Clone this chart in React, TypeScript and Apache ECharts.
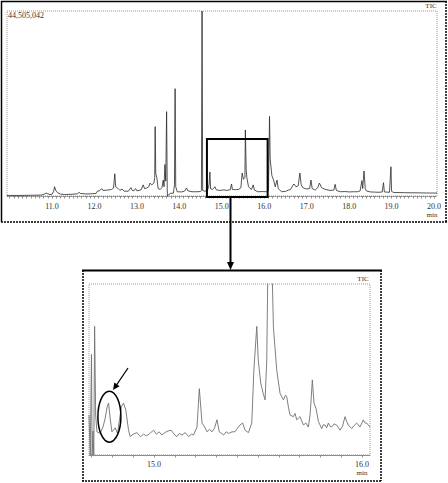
import React, { useEffect, useRef } from "react";
import * as echarts from "echarts";

// Overview TIC trace (retention time in min, intensity in % of full scale)
const overviewTime = [
  9.94, 10.2, 10.5, 10.75, 10.82, 10.86, 10.9, 10.95, 11.0, 11.04, 11.06, 11.09, 11.13, 11.2, 11.3, 11.45,
  11.6, 11.64, 11.67, 11.8, 11.95, 12.04, 12.07, 12.12, 12.17, 12.2, 12.3, 12.4, 12.45, 12.48, 12.5, 12.55,
  12.6, 12.65, 12.7, 12.8, 12.86, 12.89, 12.93, 12.97, 13.0, 13.05, 13.1, 13.15, 13.18, 13.23, 13.28, 13.31,
  13.35, 13.4, 13.42, 13.43, 13.445, 13.47, 13.5, 13.55, 13.59, 13.62, 13.64, 13.66, 13.68, 13.7, 13.715, 13.72,
  13.735, 13.8, 13.86, 13.885, 13.9, 13.915, 13.95, 14.05, 14.12, 14.17, 14.2, 14.3, 14.4, 14.5, 14.52, 14.535,
  14.55, 14.6, 14.66, 14.7, 14.72, 14.735, 14.78, 14.84, 14.87, 14.95, 15.05, 15.12, 15.2, 15.23, 15.25, 15.32,
  15.4, 15.45, 15.48, 15.51, 15.545, 15.555, 15.575, 15.59, 15.63, 15.7, 15.74, 15.77, 15.85, 15.95, 16.05, 16.1,
  16.125, 16.14, 16.18, 16.22, 16.26, 16.3, 16.33, 16.41, 16.5, 16.57, 16.62, 16.67, 16.7, 16.75, 16.8, 16.84,
  16.87, 16.92, 17.0, 17.07, 17.1, 17.13, 17.2, 17.26, 17.3, 17.35, 17.43, 17.55, 17.64, 17.67, 17.7, 17.79,
  17.9, 18.0, 18.1, 18.2, 18.26, 18.3, 18.32, 18.35, 18.38, 18.41, 18.5, 18.6, 18.7, 18.78, 18.81, 18.83,
  18.95, 18.985, 19.0, 19.05, 19.3, 19.6, 19.9, 20.07,
];
const overviewIntensity = [
  0.3, 0.3, 0.4, 0.5, 1.0, 1.6, 1.2, 0.8, 0.9, 2.5, 5.0, 3.0, 1.8, 1.0, 0.8, 0.9,
  1.2, 2.0, 1.4, 1.1, 1.2, 1.4, 2.6, 2.8, 4.0, 3.0, 3.2, 3.5, 4.3, 12.0, 5.0, 4.2,
  3.0, 3.8, 2.6, 2.6, 4.5, 3.0, 2.8, 4.0, 2.8, 3.0, 3.4, 6.0, 4.0, 4.3, 5.0, 7.0,
  6.0, 7.0, 10.0, 37.5, 12.0, 10.0, 4.0, 3.5, 4.5, 8.6, 5.0, 17.0, 8.0, 45.6, 4.0, 0.0,
  0.5, 1.5, 1.5, 6.0, 58.0, 5.0, 2.3, 2.2, 2.6, 4.3, 2.8, 2.3, 2.3, 2.4, 3.0, 100.0,
  3.0, 2.6, 2.8, 6.0, 13.0, 4.0, 3.5, 5.0, 3.3, 3.0, 3.3, 3.0, 3.4, 6.5, 3.5, 3.4,
  3.6, 4.5, 12.4, 9.0, 10.0, 35.7, 14.0, 10.0, 5.0, 3.5, 6.0, 3.2, 2.3, 2.4, 2.3, 3.0,
  43.0, 20.0, 11.0, 8.6, 5.0, 8.6, 4.0, 2.3, 2.5, 3.2, 3.5, 5.5, 6.5, 5.0, 5.5, 12.4,
  6.0, 4.3, 3.8, 4.0, 8.6, 4.0, 3.2, 4.5, 7.0, 4.5, 3.6, 3.0, 3.2, 6.3, 3.0, 2.3,
  2.4, 2.2, 2.3, 2.3, 2.8, 8.3, 4.0, 13.5, 4.0, 2.7, 2.2, 2.1, 2.0, 2.2, 7.2, 2.2,
  2.0, 15.8, 2.5, 1.9, 1.8, 1.7, 1.6, 1.6,
];

// Enlarged window trace (same units)
const zoomTime = [
  14.688, 14.694, 14.7, 14.703, 14.707, 14.711, 14.715, 14.72, 14.726, 14.742, 14.755, 14.765, 14.775, 14.782, 14.79, 14.798,
  14.814, 14.825, 14.835, 14.843, 14.854, 14.865, 14.878, 14.886, 14.9, 14.918, 14.935, 14.95, 14.965, 14.98, 14.998, 15.012,
  15.025, 15.038, 15.052, 15.067, 15.083, 15.097, 15.11, 15.122, 15.135, 15.15, 15.167, 15.18, 15.19, 15.207, 15.218, 15.231,
  15.244, 15.255, 15.267, 15.279, 15.29, 15.303, 15.314, 15.325, 15.335, 15.347, 15.359, 15.375, 15.389, 15.4, 15.413, 15.426,
  15.438, 15.454, 15.47, 15.48, 15.494, 15.501, 15.513, 15.525, 15.534, 15.542, 15.548, 15.566, 15.574, 15.59, 15.606, 15.622,
  15.632, 15.638, 15.646, 15.654, 15.67, 15.678, 15.686, 15.702, 15.718, 15.73, 15.742, 15.75, 15.755, 15.761, 15.769, 15.779,
  15.79, 15.806, 15.814, 15.822, 15.83, 15.838, 15.846, 15.854, 15.866, 15.878, 15.894, 15.906, 15.918, 15.926, 15.934, 15.95,
  15.962, 15.974, 15.99, 16.006, 16.014, 16.022, 16.038,
];
const zoomIntensity = [
  5.0, 0.0, 12.6, 0.0, 3.0, 0.0, 16.1, 5.0, 2.9, 2.7, 3.5, 4.5, 6.0, 6.5, 4.5, 2.9,
  3.4, 2.7, 4.5, 6.0, 6.5, 5.6, 3.1, 2.3, 2.6, 2.8, 2.3, 2.6, 2.4, 2.7, 3.1, 2.6,
  2.9, 2.5, 2.8, 3.0, 3.1, 2.6, 2.3, 2.7, 2.5, 2.8, 2.3, 2.6, 2.5, 3.5, 8.3, 4.0,
  3.5, 2.9, 3.2, 2.9, 3.3, 4.4, 2.9, 2.7, 2.5, 2.9, 2.7, 2.9, 2.9, 3.3, 3.75, 4.0,
  3.1, 2.8, 4.0, 10.6, 16.1, 11.9, 9.0, 7.7, 6.9, 11.9, 25.0, 25.0, 16.0, 10.6, 7.7, 6.9,
  7.5, 7.3, 6.0, 5.0, 4.8, 5.2, 4.4, 4.8, 3.75, 4.0, 3.5, 5.0, 6.9, 9.4, 6.5, 5.8,
  4.2, 3.3, 3.8, 3.75, 3.4, 4.0, 3.6, 3.5, 3.9, 3.75, 3.1, 3.6, 4.8, 4.2, 3.75, 3.3,
  3.7, 4.0, 3.5, 4.4, 4.0, 4.0, 3.5,
];

const overviewTickLabels = [11, 12, 13, 14, 15, 16, 17, 18, 19, 20];
const zoomTickLabels = [15, 16];
const fullScaleLabel = "44,505,042";
const traceLabel = "TIC";
const unitLabel = "min";
const zoomWindow = [14.65, 16.08];
const zoomWindowTop = 30.8;
const circledPeak = [14.786, 4.8];

const FONT = "'Liberation Serif', 'DejaVu Serif', serif";

function tenths(a: number, b: number): number[] {
  const out: number[] = [];
  for (let k = Math.ceil(a * 10); k <= Math.floor(b * 10); k++) out.push(k / 10);
  return out;
}

export default function App() {
  const ref = useRef<HTMLDivElement>(null);

  useEffect(() => {
    if (!ref.current) return;
    const chart = echarts.init(ref.current, undefined, { renderer: "svg" });

    const overviewData = overviewTime.map((t, i) => [t, overviewIntensity[i]]);
    const zoomData = zoomTime.map((t, i) => [t, zoomIntensity[i]]);

    const xMin0 = 9.94, xMax0 = 20.07;
    const xMin1 = 14.688, xMax1 = 16.038;

    chart.setOption({
      animation: false,
      backgroundColor: "#ffffff",
      grid: [
        { left: 7, top: 11, width: 430, height: 185 },
        { left: 89, top: 284, width: 281, height: 171 },
      ],
      xAxis: [
        {
          type: "value", gridIndex: 0, min: xMin0, max: xMax0,
          axisLine: { show: true, lineStyle: { color: "#777", width: 1, type: [1, 1] } },
          axisTick: { show: true, length: 2.5, lineStyle: { color: "#777", width: 0.8 }, customValues: tenths(xMin0, xMax0) },
          axisLabel: {
            show: true, margin: 6, fontSize: 8, fontFamily: FONT, color: "#333",
            customValues: overviewTickLabels,
            formatter: (v: number) => v.toFixed(1),
          },
          splitLine: { show: false },
        },
        {
          type: "value", gridIndex: 1, min: xMin1, max: xMax1,
          axisLine: { show: true, lineStyle: { color: "#888", width: 1 } },
          axisTick: { show: true, length: 2.5, lineStyle: { color: "#777", width: 0.8 }, customValues: tenths(xMin1, xMax1) },
          axisLabel: {
            show: true, margin: 5, fontSize: 8, fontFamily: FONT, color: "#333",
            customValues: zoomTickLabels,
            formatter: (v: number) => v.toFixed(1),
          },
          splitLine: { show: false },
        },
      ],
      yAxis: [
        { type: "value", gridIndex: 0, min: 0, max: 100, show: false, splitLine: { show: false } },
        { type: "value", gridIndex: 1, min: 0, max: 21.4, show: false, splitLine: { show: false } },
      ],
      series: [
        {
          type: "line", xAxisIndex: 0, yAxisIndex: 0, data: overviewData,
          showSymbol: false, symbol: "none", clip: true,
          lineStyle: { color: "#2a2a2a", width: 0.8 },
        },
        {
          type: "line", xAxisIndex: 1, yAxisIndex: 1, data: zoomData,
          showSymbol: false, symbol: "none", clip: true,
          lineStyle: { color: "#707070", width: 0.9 },
        },
      ],
    });

    const p = (grid: number, v: number[]) =>
      chart.convertToPixel({ xAxisIndex: grid, yAxisIndex: grid }, v) as number[];

    const boxA = p(0, [zoomWindow[0], zoomWindowTop]);
    const boxB = p(0, [zoomWindow[1], -0.5]);
    const ell = p(1, circledPeak);
    const arrowX = Math.round((boxA[0] + boxB[0]) / 2) - 6.5;

    const textStyle = (text: string, x: number, y: number, size: number, align = "left") => ({
      type: "text",
      x, y,
      style: { text, fontSize: size, fontFamily: FONT, fill: "#333", align, verticalAlign: "middle" },
      z: 10,
    });

    const line = (x1: number, y1: number, x2: number, y2: number, w: number, dash?: number[]) => ({
      type: "line",
      shape: { x1, y1, x2, y2 },
      style: { stroke: "#000", lineWidth: w, lineDash: dash },
      z: 10,
    });

    chart.setOption({
      graphic: [
        // outer frame of overview
        line(1, 1.5, 447, 1.5, 1.5),
        line(1.5, 1, 1.5, 222, 1.5),
        line(1, 222, 447, 222, 1.5, [2, 1]),
        line(446, 1, 446, 222, 1.5, [2, 1]),
        // overview plot frame
        {
          type: "rect", shape: { x: 7, y: 11, width: 430, height: 185 },
          style: { fill: "none", stroke: "#999", lineWidth: 1, lineDash: [1, 1] }, z: 1,
        },
        // outer frame of enlarged view
        line(82, 270.5, 382, 270.5, 2),
        line(83, 270, 83, 481, 1.5, [2, 1]),
        line(381, 270, 381, 481, 1.5, [2, 1]),
        line(82, 481, 382, 481, 1.5, [2, 1]),
        // enlarged plot frame
        {
          type: "rect", shape: { x: 89, y: 284, width: 281, height: 171 },
          style: { fill: "none", stroke: "#999", lineWidth: 1, lineDash: [1, 1] }, z: 1,
        },
        // selection box
        {
          type: "rect",
          shape: { x: boxA[0], y: boxA[1], width: boxB[0] - boxA[0], height: boxB[1] - boxA[1] },
          style: { fill: "none", stroke: "#000", lineWidth: 2 }, z: 11,
        },
        // connecting arrow
        line(arrowX, boxB[1], arrowX, 264, 2),
        {
          type: "polygon", shape: { points: [[arrowX - 3.5, 262], [arrowX + 3.5, 262], [arrowX, 270]] },
          style: { fill: "#000" }, z: 11,
        },
        // ellipse around peak
        {
          type: "ellipse", shape: { cx: ell[0], cy: ell[1], rx: 11.5, ry: 25.5 },
          style: { fill: "none", stroke: "#000", lineWidth: 1.5 }, z: 11,
        },
        // pointer arrow
        line(128, 368, 116.5, 385, 1.3),
        {
          type: "polygon", shape: { points: [[119.6, 386.2], [114.3, 382.5], [113, 390]] },
          style: { fill: "#000" }, z: 11,
        },
        // texts
        textStyle(fullScaleLabel, 8, 15, 8),
        textStyle(traceLabel, 431, 6, 7, "center"),
        textStyle(unitLabel, 432, 215, 7, "center"),
        textStyle(traceLabel, 363, 279, 7, "center"),
        textStyle(unitLabel, 362, 473, 7, "center"),
      ],
    });

    return () => chart.dispose();
  }, []);

  return (
    <div
      ref={ref}
      style={{ position: "absolute", left: 0, top: 0, width: 448, height: 483 }}
    />
  );
}
